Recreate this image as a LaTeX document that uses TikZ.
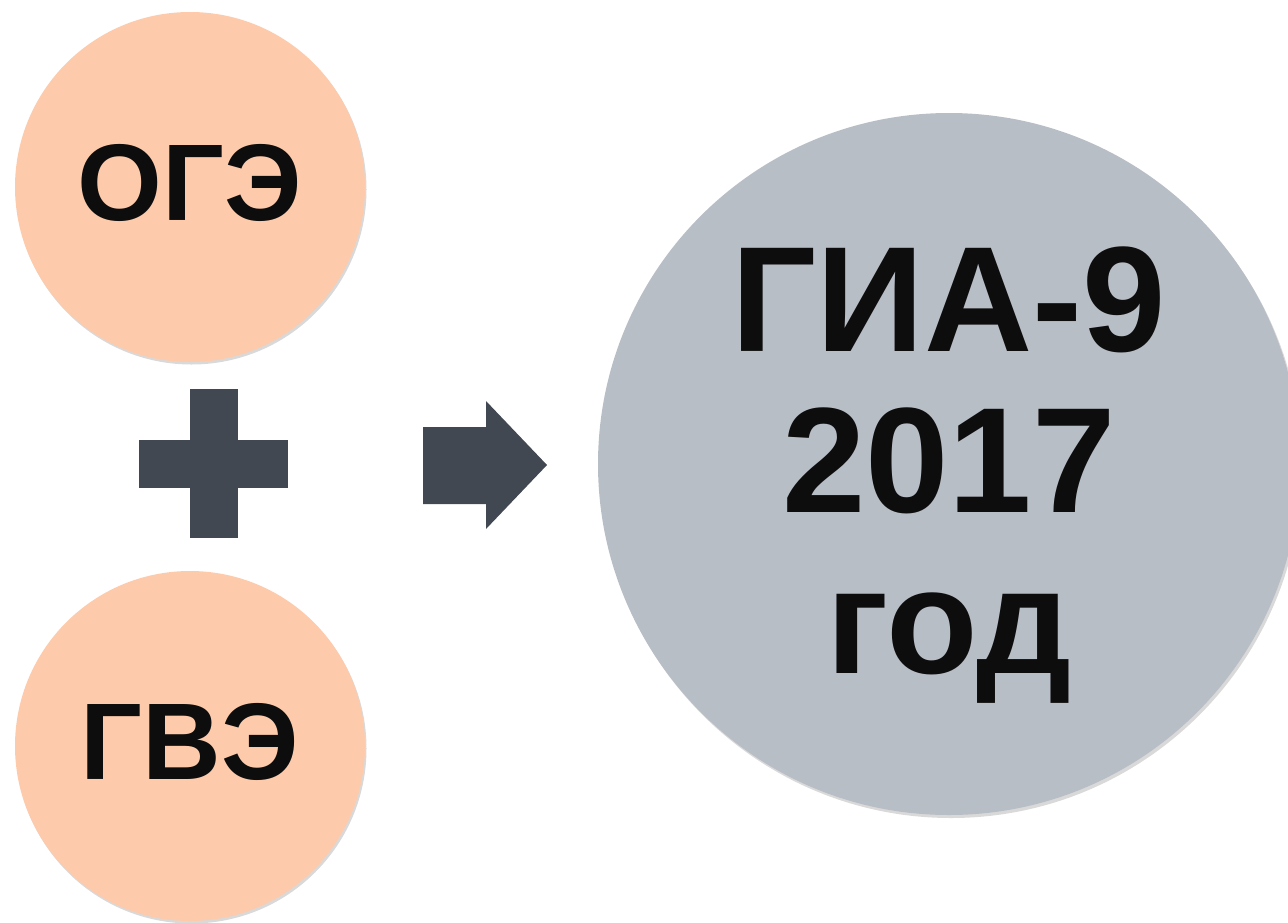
\documentclass[tikz,border=0pt]{standalone}
\usepackage{fontspec}
\setmainfont{Liberation Sans}
\usetikzlibrary{shadows}
\definecolor{peach}{RGB}{253,203,172}
\definecolor{slate}{RGB}{184,190,198}
\definecolor{ink}{RGB}{13,13,13}
\definecolor{mark}{RGB}{65,72,82}

\begin{document}
\begin{tikzpicture}[x=1pt,y=-1pt,
  exam/.style={circle,fill=peach,minimum size=350pt,inner sep=0pt,text=ink,
    font=\bfseries\fontsize{109}{120}\selectfont,text depth=10pt,
    drop shadow={shadow xshift=1.5pt,shadow yshift=-2.5pt,opacity=.3}},
  total/.style={circle,fill=slate,minimum size=702pt,inner sep=0pt,
    drop shadow={shadow xshift=2pt,shadow yshift=-3pt,opacity=.3}},
  totaltext/.style={text=ink,align=center,inner sep=0pt,
    font=\bfseries\fontsize{150}{161}\selectfont},
  sign/.style={fill=mark}]

\useasboundingbox (0,0) rectangle (1288,922);
\clip (0,0) rectangle (1288,922);

\node[exam]   (oge)   at (190,187)    {ОГЭ};
 \node[exam]  (gve)   at (190,746)    {ГВЭ};
	\node[total] (gia) at (949,464)      {};
	\node[totaltext] (giatext) at ([yshift=-11pt]gia.center) {ГИА-9\\2017\\год};

% plus
\fill[sign] (190,389) rectangle (238,538);
\fill[sign] (139,440) rectangle (288,488);

% arrow
\fill[sign] (423,427) -- (486,427) -- (486,401) -- (547,465)
  -- (486,529) -- (486,504) -- (423,504) -- cycle;

\end{tikzpicture}
\end{document}
